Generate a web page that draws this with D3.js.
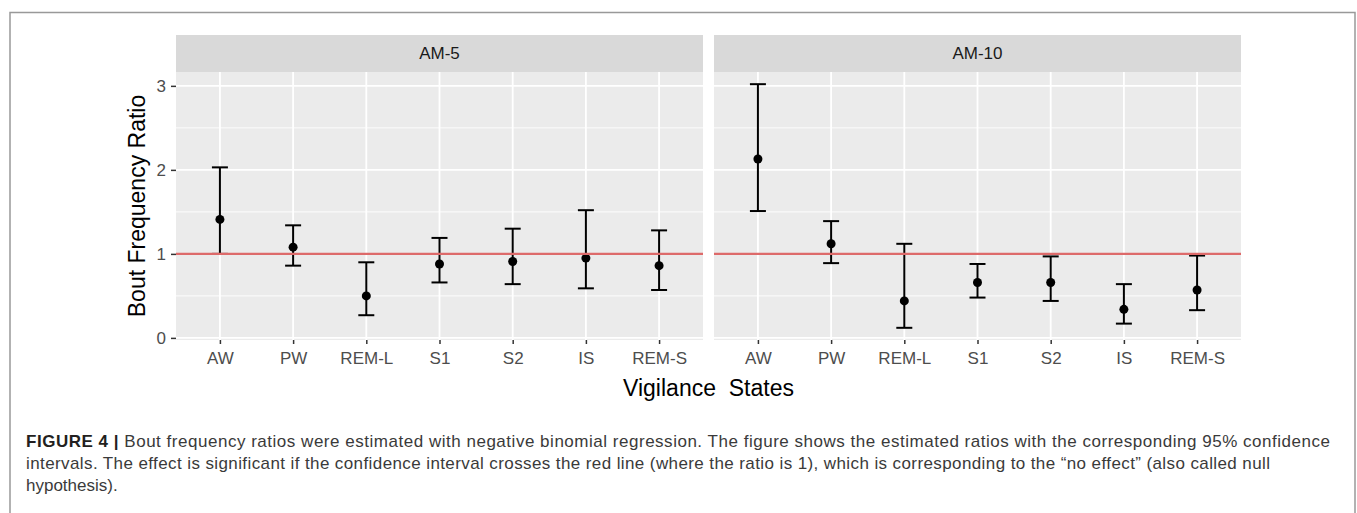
<!DOCTYPE html>
<html>
<head>
<meta charset="utf-8">
<script src="https://cdn.jsdelivr.net/npm/d3@7"></script>
<style>
  body { margin: 0; background: #fff; }
  svg { display: block; }
</style>
</head>
<body>
<div id="chart"></div>
<script>
// data
var states = ["AW", "PW", "REM-L", "S1", "S2", "IS", "REM-S"];
var panelNames = ["AM-5", "AM-10"];

var am5Ratio = [1.41, 1.08, 0.50, 0.88, 0.91, 0.95, 0.86];
var am5Lower = [1.00, 0.86, 0.27, 0.66, 0.64, 0.59, 0.57];
var am5Upper = [2.03, 1.34, 0.90, 1.19, 1.30, 1.52, 1.28];

var am10Ratio = [2.13, 1.12, 0.44, 0.66, 0.66, 0.34, 0.57];
var am10Lower = [1.51, 0.89, 0.12, 0.48, 0.44, 0.17, 0.33];
var am10Upper = [3.02, 1.39, 1.12, 0.88, 0.97, 0.64, 0.98];

var yTicks = [0, 1, 2, 3];
var yMinor = [0.5, 1.5, 2.5];
var refLine = 1;

var captionLines = [
    "Bout frequency ratios were estimated with negative binomial regression. The figure shows the estimated ratios with the corresponding 95% confidence",
    "intervals. The effect is significant if the confidence interval crosses the red line (where the ratio is 1), which is corresponding to the \u201cno effect\u201d (also called null",
    "hypothesis)."
];

// Step 1: set up
var svgWidth = 1357;
var svgHeight = 513;

var panelTop = 72;
var panelBottom = 340;
var stripTop = 35;
var panelX = [[176, 703], [714, 1241]];

var svg = d3.select("#chart")
    .append("svg")
    .attr("width", svgWidth)
    .attr("height", svgHeight);

// outer frame of the figure
svg.append("path")
    .attr("d", "M10,520 L10,12.5 L1355,12.5 L1355,520")
    .attr("fill", "none")
    .attr("stroke", "#999")
    .attr("stroke-width", 1.5);

var panelData = [
    states.map((s, i) => ({ state: s, ratio: am5Ratio[i], lo: am5Lower[i], hi: am5Upper[i] })),
    states.map((s, i) => ({ state: s, ratio: am10Ratio[i], lo: am10Lower[i], hi: am10Upper[i] }))
];

// shared y scale, expanded 5% like ggplot
var yMin = d3.min(am5Lower.concat(am10Lower, [refLine]));
var yMax = d3.max(am5Upper.concat(am10Upper, [refLine]));
var pad = (yMax - yMin) * 0.05;
var yScale = d3.scaleLinear()
    .domain([yMin - pad, yMax + pad])
    .range([panelBottom, panelTop]);

var fontAxis = "Liberation Sans, Arial, sans-serif";

panelNames.forEach(function(name, p) {
    var x0 = panelX[p][0], x1 = panelX[p][1];
    var xScale = d3.scalePoint()
        .domain(states)
        .range([x0, x1])
        .padding(0.6);

    var g = svg.append("g");

    // strip
    g.append("rect")
        .attr("x", x0).attr("y", stripTop)
        .attr("width", x1 - x0).attr("height", panelTop - stripTop)
        .attr("fill", "#d9d9d9");
    g.append("text")
        .attr("x", (x0 + x1) / 2)
        .attr("y", (stripTop + panelTop) / 2)
        .attr("dy", "0.35em")
        .attr("text-anchor", "middle")
        .style("font-family", fontAxis)
        .style("font-size", "17px")
        .style("fill", "#1a1a1a")
        .text(name);

    // panel background
    g.append("rect")
        .attr("x", x0).attr("y", panelTop)
        .attr("width", x1 - x0).attr("height", panelBottom - panelTop)
        .attr("fill", "#ebebeb");

    // grid
    g.selectAll(".minor")
        .data(yMinor)
        .enter()
        .append("line")
        .attr("x1", x0).attr("x2", x1)
        .attr("y1", d => yScale(d)).attr("y2", d => yScale(d))
        .attr("stroke", "#fff")
        .attr("stroke-width", 0.9);
    g.selectAll(".major")
        .data(yTicks)
        .enter()
        .append("line")
        .attr("x1", x0).attr("x2", x1)
        .attr("y1", d => yScale(d)).attr("y2", d => yScale(d))
        .attr("stroke", "#fff")
        .attr("stroke-width", 1.8);
    g.selectAll(".vgrid")
        .data(states)
        .enter()
        .append("line")
        .attr("x1", d => xScale(d)).attr("x2", d => xScale(d))
        .attr("y1", panelTop).attr("y2", panelBottom)
        .attr("stroke", "#fff")
        .attr("stroke-width", 1.8);

    // error bars
    var bars = g.selectAll(".bar")
        .data(panelData[p])
        .enter()
        .append("g");
    bars.append("line")
        .attr("x1", d => xScale(d.state)).attr("x2", d => xScale(d.state))
        .attr("y1", d => yScale(d.lo)).attr("y2", d => yScale(d.hi))
        .attr("stroke", "#000").attr("stroke-width", 2);
    bars.append("line")
        .attr("x1", d => xScale(d.state) - 8).attr("x2", d => xScale(d.state) + 8)
        .attr("y1", d => yScale(d.hi)).attr("y2", d => yScale(d.hi))
        .attr("stroke", "#000").attr("stroke-width", 2);
    bars.append("line")
        .attr("x1", d => xScale(d.state) - 8).attr("x2", d => xScale(d.state) + 8)
        .attr("y1", d => yScale(d.lo)).attr("y2", d => yScale(d.lo))
        .attr("stroke", "#000").attr("stroke-width", 2);
    bars.append("circle")
        .attr("cx", d => xScale(d.state))
        .attr("cy", d => yScale(d.ratio))
        .attr("r", 4.5)
        .attr("fill", "#000");

    // red reference line, drawn on top
    g.append("line")
        .attr("x1", x0).attr("x2", x1)
        .attr("y1", yScale(refLine)).attr("y2", yScale(refLine))
        .attr("stroke", "#dd6a6a")
        .attr("stroke-width", 2.2);

    // x axis
    var xAxis = g.append("g")
        .attr("transform", `translate(0, ${panelBottom})`)
        .call(d3.axisBottom(xScale).tickSize(4).tickPadding(8));
    xAxis.select(".domain").remove();
    xAxis.selectAll(".tick line").attr("stroke", "#333").attr("stroke-width", 1.5);
    xAxis.selectAll(".tick text")
        .style("font-family", fontAxis)
        .style("font-size", "17px")
        .style("fill", "#4d4d4d");

    // y axis only on the first panel
    if (p === 0) {
        var yAxis = g.append("g")
            .attr("transform", `translate(${x0}, 0)`)
            .call(d3.axisLeft(yScale).tickValues(yTicks).tickFormat(d3.format("d")).tickSize(5).tickPadding(5));
        yAxis.select(".domain").remove();
        yAxis.selectAll(".tick line").attr("stroke", "#333").attr("stroke-width", 1.5);
        yAxis.selectAll(".tick text")
            .style("font-family", fontAxis)
            .style("font-size", "17px")
            .style("fill", "#4d4d4d");
    }
});

// axis titles
svg.append("text")
    .attr("transform", `translate(145, ${(panelTop + panelBottom) / 2}) rotate(-90)`)
    .attr("text-anchor", "middle")
    .style("font-family", fontAxis)
    .style("font-size", "23px")
    .style("fill", "#000")
    .text("Bout Frequency Ratio");

svg.append("text")
    .attr("x", (panelX[0][0] + panelX[1][1]) / 2)
    .attr("y", 396)
    .attr("text-anchor", "middle")
    .style("font-family", fontAxis)
    .style("font-size", "23px")
    .style("white-space", "pre")
    .style("fill", "#000")
    .text("Vigilance  States");

// caption
var capY = [447, 469, 491];
var capWidth = [1304, 1244, null];
var cap = svg.append("g")
    .style("font-family", "Liberation Sans Narrow, Liberation Sans, Arial, sans-serif")
    .style("font-size", "17px");

captionLines.forEach(function(line, i) {
    var t = cap.append("text")
        .attr("x", 26)
        .attr("y", capY[i])
        .style("fill", "#3a3a3a");
    if (capWidth[i]) t.attr("textLength", capWidth[i]).attr("lengthAdjust", "spacing");
    if (i === 0) {
        t.append("tspan")
            .style("font-weight", "bold")
            .style("fill", "#231f20")
            .style("font-family", "Liberation Sans, Arial, sans-serif")
            .text("FIGURE 4 | ");
    }
    t.append("tspan").text(line);
});
</script>
</body>
</html>
